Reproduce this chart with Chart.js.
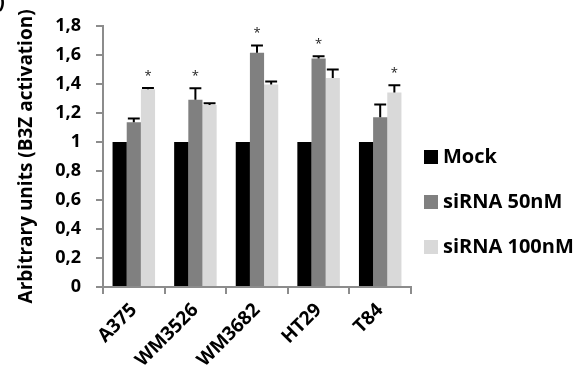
<!DOCTYPE html>
<html>
<head>
<meta charset="utf-8">
<script src="https://cdn.jsdelivr.net/npm/chart.js@4"></script>
<style>
    html, body { margin: 0; padding: 0; background: #fff; }
    #wrap { width: 580px; height: 382px; }
</style>
</head>
<body>
<div id="wrap"><canvas id="chart"></canvas></div>
<script>
// Data
const cellLines = ['A375', 'WM3526', 'WM3682', 'HT29', 'T84'];
const seriesNames = ['Mock', 'siRNA 50nM', 'siRNA 100nM'];
const seriesColors = ['#000000', '#808080', '#d9d9d9'];
const mockValues = [1, 1, 1, 1, 1];
const si50Values = [1.135, 1.29, 1.615, 1.575, 1.17];
const si100Values = [1.362, 1.255, 1.396, 1.44, 1.34];
const mockErr = [0, 0, 0, 0, 0];
const si50Err = [0.027, 0.08, 0.05, 0.016, 0.087];
const si100Err = [0.01, 0.011, 0.02, 0.058, 0.05];
// asterisk above: [series index] per cell line
const starSeries = [2, 1, 1, 1, 2];
const yTicks = [0, 0.2, 0.4, 0.6, 0.8, 1, 1.2, 1.4, 1.6, 1.8];

const FONT = '"Open Sans", "DejaVu Sans", sans-serif';
const values = [mockValues, si50Values, si100Values];
const errors = [mockErr, si50Err, si100Err];

// Error bars (upper only) and asterisks
const errorBarPlugin = {
    id: 'errorBars',
    afterDatasetsDraw(chart) {
        const ctx = chart.ctx;
        const y = chart.scales.y;
        ctx.save();
        ctx.strokeStyle = '#000';
        ctx.lineWidth = 2;
        chart.data.datasets.forEach((ds, di) => {
            const meta = chart.getDatasetMeta(di);
            meta.data.forEach((bar, i) => {
                const err = errors[di][i];
                if (!err) return;
                const top = y.getPixelForValue(values[di][i] + err);
                const half = bar.width * 0.42;
                ctx.beginPath();
                ctx.moveTo(bar.x, bar.y);
                ctx.lineTo(bar.x, top);
                ctx.moveTo(bar.x - half, top);
                ctx.lineTo(bar.x + half, top);
                ctx.stroke();
            });
        });
        ctx.fillStyle = '#222';
        ctx.font = '13px ' + FONT;
        ctx.textAlign = 'center';
        ctx.textBaseline = 'middle';
        starSeries.forEach((si, i) => {
            const bar = chart.getDatasetMeta(si).data[i];
            const top = y.getPixelForValue(values[si][i] + errors[si][i]);
            ctx.fillText('*', bar.x, top - 12);
        });
        ctx.restore();
    }
};

// Legend on the right + panel letter remnant
const sideLegendPlugin = {
    id: 'sideLegend',
    afterDraw(chart) {
        const ctx = chart.ctx;
        ctx.save();
        ctx.font = 'bold 20px ' + FONT;
        ctx.textBaseline = 'middle';
        ctx.textAlign = 'left';
        seriesNames.forEach((name, i) => {
            const cy = 157 + i * 45;
            ctx.fillStyle = seriesColors[i];
            ctx.fillRect(424, cy - 7, 14, 14);
            ctx.fillStyle = '#000';
            ctx.fillText(name, 443, cy);
        });
        ctx.textBaseline = 'top';
        ctx.fillText(')', -2, -8);
        ctx.restore();
    }
};

const ctx = document.getElementById('chart').getContext('2d');
new Chart(ctx, {
    type: 'bar',
    data: {
        labels: cellLines,
        datasets: seriesNames.map((name, i) => ({
            label: name,
            data: values[i],
            backgroundColor: seriesColors[i],
            borderWidth: 0,
            barPercentage: 1,
            categoryPercentage: 0.69
        }))
    },
    options: {
        responsive: true,
        maintainAspectRatio: false,
        animation: false,
        layout: { padding: { top: 20, right: 169, bottom: 0, left: 0 } },
        plugins: {
            legend: { display: false },
            tooltip: { enabled: false }
        },
        scales: {
            y: {
                min: 0,
                max: 1.8,
                afterFit(scale) { scale.width = 103; },
                afterBuildTicks(scale) { scale.ticks = yTicks.map(v => ({ value: v })); },
                ticks: {
                    color: '#000',
                    padding: 15,
                    font: { family: FONT, size: 18, weight: 'bold' },
                    callback: v => String(Math.round(v * 10) / 10).replace('.', ',')
                },
                grid: { drawOnChartArea: false, drawTicks: true, tickLength: 7, color: '#8c8c8c', lineWidth: 2 },
                border: { color: '#8c8c8c', width: 2 },
                title: {
                    display: true,
                    text: 'Arbitrary units (B3Z activation)',
                    color: '#000',
                    font: { family: FONT, size: 19, weight: 'bold' },
                    padding: { top: 15, bottom: 0 }
                }
            },
            x: {
                afterFit(scale) { scale.height = 95; },
                ticks: {
                    color: '#000',
                    autoSkip: false,
                    maxRotation: 45,
                    minRotation: 45,
                    padding: 5,
                    font: { family: FONT, size: 19, weight: 'bold' }
                },
                grid: { drawOnChartArea: false, drawTicks: true, tickLength: 7, color: '#8c8c8c', lineWidth: 2 },
                border: { color: '#8c8c8c', width: 2 }
            }
        }
    },
    plugins: [errorBarPlugin, sideLegendPlugin]
});
</script>
</body>
</html>
